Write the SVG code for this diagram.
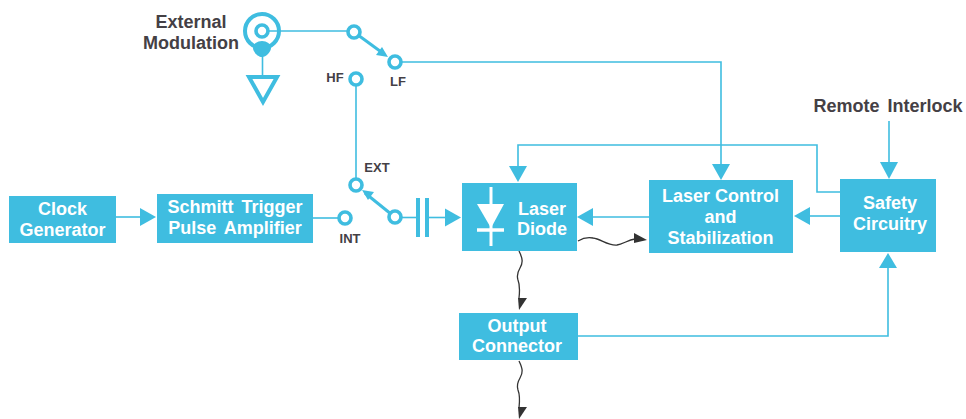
<svg xmlns="http://www.w3.org/2000/svg" width="966" height="419" viewBox="0 0 966 419">
<style>
.box{fill:#3fbde0}
.w{font:bold 18px "Liberation Sans",Arial,sans-serif;fill:#fff;text-anchor:middle}
.k{font:bold 18px "Liberation Sans",Arial,sans-serif;fill:#444045;text-anchor:middle}
.s{font:bold 13px "Liberation Sans",Arial,sans-serif;fill:#444045;text-anchor:middle}
.l{fill:none;stroke:#3fbde0;stroke-width:1.6}
.a{fill:#3fbde0}
.t{fill:#fff;stroke:#3fbde0;stroke-width:3.6}
.h{fill:none;stroke:#3fbde0;stroke-width:3}
.wv{fill:none;stroke:#333;stroke-width:1.3}
.d{fill:#333}
</style>
<rect width="966" height="419" fill="#fff"/>
<g id="connectors">
<path class="l" d="M262 31H353"/>
<path class="l" d="M395 62H721V166"/>
<path class="l" d="M356 80V184"/>
<path class="l" d="M115 217H141"/><path class="a" d="M156 217l-16-9v18z"/>
<path class="l" d="M313 218H345"/>
<path class="l" d="M395 217.500H418"/>
<path class="l" d="M427 217.500H446"/><path class="a" d="M461 217.500l-16-9v18z"/>
<path class="l" d="M649 217H592"/><path class="a" d="M577 217l16-9v18z"/>
<path class="l" d="M840 216H809"/><path class="a" d="M794 216l16-9v18z"/>
<path class="l" d="M840 192H817V145H518V168"/><path class="a" d="M518 182l-9-16h18z"/>
<path class="a" d="M721 180l-9-16h18z"/>
<path class="l" d="M889 121V164"/><path class="a" d="M889 179l-9-17h18z"/>
<path class="l" d="M578 336H888V266"/><path class="a" d="M888 253l-9 15h18z"/>
<path class="l" d="M262.500 55V76"/>
<path class="wv" d="M519 251c4 8 4 12 1 17c-3 5-3 9-2 12c2 5 2 9 1 18"/><path class="d" d="M519 310l-1-12h9z"/>
<path class="wv" d="M519 361c4 8 4 12 1 17c-3 5-3 9-2 12c2 5 2 9 1 18"/><path class="d" d="M519 419l-1-12h9z"/>
<path class="wv" d="M578 241c5-3 10-4 15-3c8 1 15 8 24 7c6-1 11-5 18-6"/><path class="d" d="M647 240l-13-7v10z"/>
<path d="M358 35L384 54" stroke="#3fbde0" stroke-width="3" fill="none"/><path class="a" d="M388 57l-12-2l6-8z"/>
<path d="M391 214L365 193" stroke="#3fbde0" stroke-width="3" fill="none"/><path class="a" d="M362 190l12 2l-6 8z"/>
</g>
<g id="external-modulation">
<text class="k" x="191" y="28">External</text>
<text class="k" x="191" y="49">Modulation</text>
<circle class="h" cx="262" cy="31" r="17" style="stroke-width:4"/>
<circle class="t" cx="262" cy="31" r="6"/>
<path class="a" d="M253 48a9 7 0 0 1 18 0c0 4-5 9-9 9s-9-5-9-9z"/>
</g>
<g id="ground"><path d="M249 77H277L263 102z" fill="none" stroke="#3fbde0" stroke-width="4"/></g>
<g id="switch-top"><circle class="t" cx="354" cy="32" r="6"/><circle class="t" cx="395" cy="62" r="6"/></g>
<g id="terminal-lf"><text class="s" x="398" y="86">LF</text></g>
<g id="terminal-hf"><circle class="t" cx="356" cy="79" r="6"/><text class="s" x="335" y="82">HF</text></g>
<g id="terminal-ext"><circle class="t" cx="356" cy="185" r="6"/><text class="s" x="377" y="172">EXT</text></g>
<g id="terminal-int"><circle class="t" cx="345" cy="218" r="6"/><text class="s" x="350" y="243">INT</text></g>
<g id="switch-bottom"><circle class="t" cx="395" cy="217" r="6"/></g>
<g id="capacitor"><path class="h" d="M418 198V237M427 198V237" style="stroke-width:4"/></g>
<g id="clock-generator"><rect class="box" x="9" y="196" width="107" height="47"/><text class="w" x="62.500" y="215">Clock</text><text class="w" x="62.500" y="236">Generator</text></g>
<g id="schmitt-trigger"><rect class="box" x="157" y="194" width="156" height="49"/><text class="w" x="235" y="213" style="word-spacing:3px">Schmitt Trigger</text><text class="w" x="235" y="234" style="word-spacing:3px">Pulse Amplifier</text></g>
<g id="laser-diode"><rect class="box" x="462" y="183" width="115" height="68"/>
<path d="M491 187V246" stroke="#fff" stroke-width="3" fill="none"/><path d="M477 204H504L491 228z" fill="#fff"/><path d="M477 230H504" stroke="#fff" stroke-width="3.500" fill="none"/>
<text class="w" x="542" y="215">Laser</text><text class="w" x="542" y="235">Diode</text></g>
<g id="laser-control"><rect class="box" x="649" y="180" width="144" height="73"/><text class="w" x="720.500" y="202">Laser Control</text><text class="w" x="720.500" y="223">and</text><text class="w" x="720.500" y="244">Stabilization</text></g>
<g id="safety-circuitry"><rect class="box" x="840" y="179" width="96" height="73"/><text class="w" x="890" y="209">Safety</text><text class="w" x="890" y="230">Circuitry</text></g>
<g id="output-connector"><rect class="box" x="459" y="313" width="119" height="47"/><text class="w" x="517" y="332">Output</text><text class="w" x="517" y="352">Connector</text></g>
<g id="remote-interlock"><text class="k" x="888" y="112" style="word-spacing:3px">Remote Interlock</text></g>
</svg>
